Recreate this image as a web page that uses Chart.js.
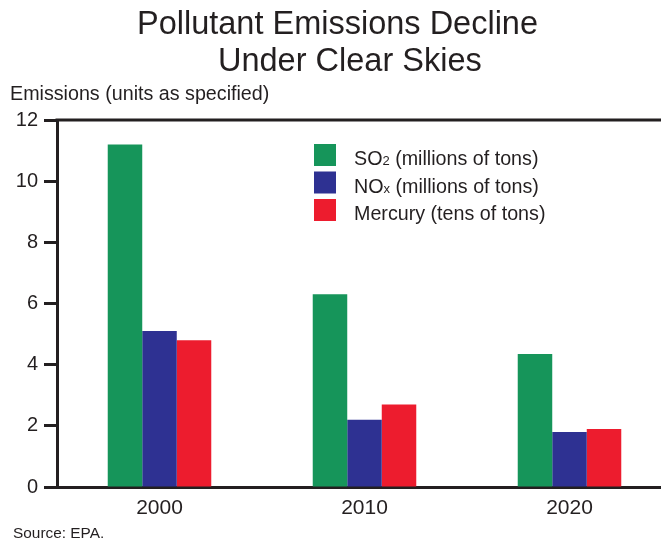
<!DOCTYPE html>
<html>
<head>
<meta charset="utf-8">
<script src="https://cdn.jsdelivr.net/npm/chart.js@4"></script>
<style>
  html, body { margin: 0; padding: 0; background: #fff; overflow: hidden; }
  body { width: 661px; height: 542px; position: relative; font-family: "Liberation Sans", Arial, sans-serif; color: #231f20; }
  #chart { position: absolute; left: 0; top: 0; }
  .txt { position: absolute; white-space: nowrap; line-height: 1; }
  .title { font-size: 32.5px; }
</style>
</head>
<body>
<canvas id="chart" width="672" height="542"></canvas>
<div class="txt title" style="left:137px; top:7px;">Pollutant Emissions Decline</div>
<div class="txt title" style="left:218px; top:44px;">Under Clear Skies</div>
<div class="txt" style="left:10px; top:84px; font-size:19.7px;">Emissions (units as specified)</div>
<div class="txt" style="left:13px; top:525px; font-size:15.4px;">Source: EPA.</div>
<script>
const years = ['2000', '2010', '2020'];
const so2 = [11.2, 6.3, 4.35];      // millions of tons
const nox = [5.1, 2.2, 1.8];        // millions of tons
const mercury = [4.8, 2.7, 1.9];    // tens of tons
const yTicks = [0, 2, 4, 6, 8, 10, 12];

// legend labels split into [main, subscript, rest]
const seriesLabels = [
  ['SO', '2', ' (millions of tons)'],
  ['NO', 'x', ' (millions of tons)'],
  ['Mercury', '', ' (tens of tons)']
];
const colors = ['#16955a', '#2e3192', '#ed1c2e'];
const ink = '#231f20';
const fam = '"Liberation Sans", Arial, sans-serif';

// top frame line + custom legend with subscripts
const extras = {
  id: 'extras',
  afterDraw(chart) {
    const { ctx, chartArea } = chart;
    ctx.save();
    ctx.strokeStyle = ink;
    ctx.lineWidth = 3;
    ctx.beginPath();
    ctx.moveTo(chartArea.left - 1.5, chartArea.top);
    ctx.lineTo(chart.width, chartArea.top);
    ctx.stroke();

    chart.data.datasets.forEach((ds, i) => {
      const y = 144 + i * 27.5;
      ctx.fillStyle = ds.backgroundColor;
      ctx.fillRect(314, y, 22, 22);
      const parts = seriesLabels[i];
      let x = 354;
      const base = y + 21;
      ctx.fillStyle = ink;
      ctx.textBaseline = 'alphabetic';
      ctx.font = '19.7px ' + fam;
      ctx.fillText(parts[0], x, base);
      x += ctx.measureText(parts[0]).width;
      if (parts[1]) {
        ctx.font = '13px ' + fam;
        ctx.fillText(parts[1], x, base);
        x += ctx.measureText(parts[1]).width;
        ctx.font = '19.7px ' + fam;
      }
      ctx.fillText(parts[2], x, base);
    });
    ctx.restore();
  }
};

new Chart(document.getElementById('chart'), {
  type: 'bar',
  data: {
    labels: years,
    datasets: [
      { data: so2, backgroundColor: colors[0] },
      { data: nox, backgroundColor: colors[1] },
      { data: mercury, backgroundColor: colors[2] }
    ]
  },
  options: {
    responsive: false,
    animation: false,
    devicePixelRatio: 1,
    layout: { padding: { top: 120, left: 0, right: 0, bottom: 0 } },
    datasets: { bar: { barPercentage: 1, categoryPercentage: 0.505 } },
    plugins: { legend: { display: false }, title: { display: false }, tooltip: { enabled: false } },
    scales: {
      x: {
        afterFit: s => { s.height = 55; },
        grid: { display: true, drawOnChartArea: false, drawTicks: false },
        border: { display: true, color: ink, width: 3 },
        ticks: { color: ink, padding: 9, font: { size: 21, family: fam } }
      },
      y: {
        min: 0, max: 12,
        afterFit: s => { s.width = 57; },
        afterBuildTicks: s => { s.ticks = yTicks.map(v => ({ value: v })); },
        grid: { drawOnChartArea: false, drawTicks: true, tickLength: 13, tickWidth: 3, tickColor: ink },
        border: { display: true, color: ink, width: 3 },
        ticks: { color: ink, padding: 6, font: { size: 20, family: fam } }
      }
    }
  },
  plugins: [extras]
});
</script>
</body>
</html>
